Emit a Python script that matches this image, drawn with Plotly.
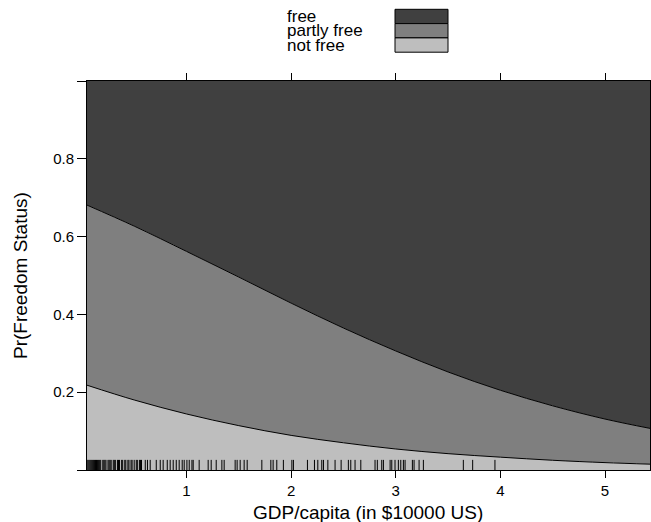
import plotly.graph_objects as go

# GDP per capita grid (in $10000 US) at which the fitted probabilities are shown
gdp = [0.049, 0.5, 1.0, 1.5, 2.0, 2.5, 3.0, 3.5, 4.0, 4.5, 5.0, 5.43]

# Cumulative fitted probabilities: Pr(not free) and Pr(not free or partly free)
cum_not_free = [0.218, 0.180, 0.144, 0.114, 0.089, 0.070, 0.054, 0.042, 0.033, 0.025, 0.019, 0.015]
cum_partly = [0.681, 0.627, 0.562, 0.496, 0.429, 0.365, 0.306, 0.252, 0.205, 0.165, 0.131, 0.107]

p_not_free = cum_not_free
p_partly_free = [round(u - l, 4) for u, l in zip(cum_partly, cum_not_free)]
p_free = [round(1 - u, 4) for u in cum_partly]

# Observed GDP per capita values (rug)
rug_gdp = [
    0.05, 0.06, 0.07, 0.08, 0.09, 0.10, 0.11, 0.12, 0.13, 0.14, 0.15, 0.16,
    0.17, 0.18, 0.20, 0.21, 0.22, 0.23, 0.25, 0.26, 0.27, 0.28, 0.30, 0.31,
    0.32, 0.34, 0.35, 0.36, 0.38, 0.39, 0.41, 0.42, 0.44, 0.45, 0.47, 0.48,
    0.50, 0.52, 0.53, 0.55, 0.56, 0.57,
    0.606, 0.627, 0.653, 0.711, 0.749, 0.777, 0.816, 0.844, 0.873, 0.902,
    0.930, 0.959, 0.978, 1.004, 1.026, 1.052, 1.064, 1.121, 1.207, 1.236,
    1.284, 1.338, 1.360, 1.465, 1.484, 1.513, 1.551, 1.580, 1.720, 1.806,
    1.828, 1.863, 1.926, 2.007, 2.022, 2.156, 2.223, 2.255, 2.293, 2.309,
    2.351, 2.420, 2.478, 2.547, 2.570, 2.611, 2.666, 2.802, 2.824, 2.866,
    2.882, 2.946, 2.962, 2.993, 3.025, 3.048, 3.073, 3.089, 3.159, 3.175,
    3.223, 3.264, 3.646, 3.735, 3.948,
]
rug_height = 0.026

categories = ["not free", "partly free", "free"]
fills = {"not free": "#bebebe", "partly free": "#7f7f7f", "free": "#404040"}
probs = {"not free": p_not_free, "partly free": p_partly_free, "free": p_free}

y_ticks = [0, 0.2, 0.4, 0.6, 0.8, 1.0]
y_ticktext = ["", "0.2", "0.4", "0.6", "0.8", ""]
x_ticks = [1, 2, 3, 4, 5]

FONT = "Liberation Sans, Arial, Helvetica, sans-serif"
W, H = 651, 522
L, R, T, B = 87, 1, 81, 52

fig = go.Figure()
for cat in categories:
    fig.add_trace(go.Scatter(
        x=gdp, y=probs[cat], stackgroup="one", name=cat,
        mode="lines", line=dict(shape="spline", color="black",
                                width=0 if cat == "free" else 1),
        fillcolor=fills[cat], showlegend=False, hoverinfo="skip",
    ))

# rug of observed values along the bottom of the panel
rx, ry = [], []
for v in rug_gdp:
    rx += [v, v, None]
    ry += [0, rug_height, None]
fig.add_trace(go.Scatter(x=rx, y=ry, mode="lines",
                         line=dict(color="black", width=1),
                         showlegend=False, hoverinfo="skip"))


def px_to_paper(px, py):
    return (px - L) / (W - L - R), (H - B - py) / (H - T - B)


# key at the top: labels on the left, swatches stacked on the right
shapes, annotations = [], []
key_top, row_h = 9.3, 14.3
for i, cat in enumerate(["free", "partly free", "not free"]):
    x0, y0 = px_to_paper(395, key_top + i * row_h)
    x1, y1 = px_to_paper(448, key_top + (i + 1) * row_h)
    shapes.append(dict(type="rect", xref="paper", yref="paper",
                       x0=x0, x1=x1, y0=y1, y1=y0,
                       fillcolor=fills[cat], line=dict(color="black", width=1)))
    tx, ty = px_to_paper(286, key_top + (i + 0.5) * row_h)
    annotations.append(dict(text=cat, xref="paper", yref="paper", x=tx, y=ty,
                            xanchor="left", yanchor="middle", showarrow=False,
                            borderpad=0,
                            font=dict(family=FONT, size=17, color="black")))

# axis titles
tx, ty = px_to_paper(368, 512)
annotations.append(dict(text="GDP/capita (in $10000 US)", xref="paper",
                        yref="paper", x=tx, y=ty, xanchor="center",
                        yanchor="middle", showarrow=False,
                        font=dict(family=FONT, size=19, color="black")))
tx, ty = px_to_paper(20, 276)
annotations.append(dict(text="Pr(Freedom Status)", xref="paper", yref="paper",
                        x=tx, y=ty, xanchor="center", yanchor="middle",
                        textangle=-90, showarrow=False,
                        font=dict(family=FONT, size=19, color="black")))

fig.update_layout(
    width=W, height=H,
    margin=dict(l=L, r=R, t=T, b=B, pad=0, autoexpand=False),
    paper_bgcolor="white", plot_bgcolor="white",
    font=dict(family=FONT, color="black"),
    shapes=shapes, annotations=annotations,
    xaxis=dict(
        range=[gdp[0], gdp[-1]], tickvals=x_ticks, ticks="outside", ticklen=7,
        tickwidth=1, tickcolor="black", showline=True, linecolor="black",
        linewidth=1, mirror="ticks", showgrid=False, zeroline=False,
        automargin=False, tickfont=dict(family=FONT, size=15),
    ),
    yaxis=dict(
        range=[0, 1], tickvals=y_ticks, ticktext=y_ticktext, ticks="outside",
        ticklen=9, tickwidth=1, tickcolor="black", showline=True,
        linecolor="black", linewidth=1, mirror="ticks", showgrid=False,
        zeroline=False, automargin=False, tickfont=dict(family=FONT, size=15),
    ),
)

fig.write_html("out.html")
